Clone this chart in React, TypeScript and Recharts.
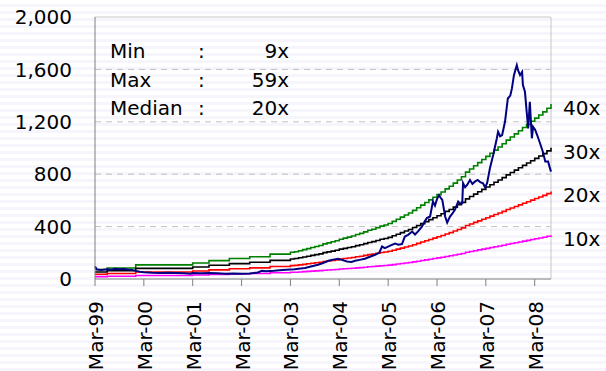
import { LineChart, Line, XAxis, YAxis, ReferenceLine } from 'recharts';

const FONT = '"DejaVu Sans", Verdana, sans-serif';

// months counted from Mar-99
const TICK_MONTHS = [0, 12, 24, 36, 48, 60, 72, 84, 96, 108];
const TICK_LABELS = ['Mar-99', 'Mar-00', 'Mar-01', 'Mar-02', 'Mar-03', 'Mar-04', 'Mar-05', 'Mar-06', 'Mar-07', 'Mar-08'];
const Y_TICKS = [0, 400, 800, 1200, 1600, 2000];

// trailing EPS, one value per month (Mar-99 .. Jul-08)
const EPS = [
  1.8, 1.8, 1.8, 2.1, 2.1, 2.1, 2.1, 2.1, 2.1, 2.1, 2.7, 2.7,
  2.7, 2.7, 2.7, 2.7, 2.7, 2.7, 2.7, 2.7, 2.7, 2.7, 2.7, 2.7,
  3.05, 3.05, 3.05, 3.05, 3.5, 3.5, 3.5, 3.5, 3.5, 3.9, 3.9, 3.9,
  3.9, 3.9, 4.25, 4.25, 4.25, 4.25, 4.25, 4.75, 4.75, 4.75, 4.75, 4.75,
  5.1, 5.2, 5.4, 5.6, 5.8, 6.0, 6.2, 6.4, 6.7, 6.9, 7.1, 7.3,
  7.6, 7.8, 8.0, 8.2, 8.5, 8.7, 9.0, 9.3, 9.5, 9.8, 10.1, 10.3,
  10.6, 11.0, 11.4, 11.8, 12.2, 12.6, 13.1, 13.6, 14.1, 14.6, 15.1, 15.6,
  16.1, 16.6, 17.2, 17.7, 18.3, 18.9, 19.5, 20.4, 21.0, 21.6, 22.2, 22.8,
  23.4, 24.0, 24.6, 25.2, 25.8, 26.5, 27.1, 27.7, 28.3, 28.9, 29.5, 30.1,
  30.7, 31.3, 31.9, 32.6, 33.4,
];

const PRICE_AT = [
  0, 0.5, 1.5, 3, 4, 5, 6, 7, 8, 9, 10, 11, 12, 13, 14, 16, 18, 20, 22, 23.5,
  24, 26, 28, 30, 32, 34, 36, 38, 40, 41, 42, 44, 46, 47, 49, 50.5, 51.6, 53, 54.8, 56,
  57.3, 58.5, 59.7, 60.8, 61.9, 63, 63.9, 65, 66.3, 67.5, 68.8, 69.8, 70.5, 71.2, 72.5, 73.7, 74.5, 75.4, 76.1, 76.9,
  77.9, 78.6, 79.4, 80.3, 81, 81.5, 82.3, 83, 83.5, 84, 84.5, 85, 85.3, 86, 86.5, 87.2, 87.8, 88.4, 89.2, 89.7,
  90.2, 90.4, 90.9, 91.4, 92.1, 92.7, 93.3, 94, 94.6, 95.3, 95.8, 96.3, 97, 97.8, 98.7, 99, 99.5, 100, 100.7, 101.4,
  102, 102.4, 102.9, 103.6, 103.9, 104.4, 104.9, 105.1, 105.6, 106.1, 106.4, 106.8, 107.3, 107.6, 108.1, 108.6, 109.3, 110, 110.6, 111.3,
  111.7, 112,
];
const PRICE = [
  96, 72, 68, 74, 70, 78, 75, 77, 72, 70, 62, 56, 52, 50, 48, 46, 47, 45, 44, 40,
  46, 44, 45, 43, 41, 42, 40, 42, 50, 62, 60, 63, 68, 71, 74, 80, 84, 95, 109, 122,
  139, 148, 155, 144, 134, 130, 139, 146, 155, 170, 185, 200, 248, 236, 255, 270, 262, 267, 324, 337,
  362, 340, 365, 400, 440, 465, 477, 591, 560, 610, 640, 615, 604, 477, 431, 477, 500, 528, 591, 575,
  579, 731, 700, 718, 756, 725, 743, 756, 740, 731, 700, 731, 845, 947, 1074, 1124, 1090, 1099, 1200, 1378,
  1400, 1455, 1556, 1632, 1594, 1556, 1581, 1480, 1429, 1251, 1150, 1353, 1074, 1162, 1140, 1099, 1036, 972, 896, 896,
  850, 820,
];

const BANDS = [
  { pe: 40, key: 'pe40', color: '#008000' },
  { pe: 30, key: 'pe30', color: '#000000' },
  { pe: 20, key: 'pe20', color: '#ff0000' },
  { pe: 10, key: 'pe10', color: '#ff00ff' },
];

const STATS = [
  { label: 'Min', value: '9x' },
  { label: 'Max', value: '59x' },
  { label: 'Median', value: '20x' },
];

const bandData = EPS.map((e, i) => {
  const row: Record<string, number> = { m: i };
  BANDS.forEach((b) => {
    row[b.key] = e * b.pe;
  });
  return row;
});

const priceData = PRICE_AT.map((m, i) => ({ m, price: PRICE[i] }));

const MonthTick = ({ x, y, payload }: any) => (
  <g transform={`translate(${x + 1},${y})`}>
    <text
      transform="rotate(-90)"
      textAnchor="end"
      dominantBaseline="central"
      fontSize={20}
      fontFamily={FONT}
      fill="#000"
    >
      {TICK_LABELS[TICK_MONTHS.indexOf(payload.value)]}
    </text>
  </g>
);

const endLabel = (text: string) => (p: any) =>
  p.index === EPS.length - 1 ? (
    <text
      key={text}
      x={p.x + 12}
      y={p.y + 4}
      dominantBaseline="central"
      fontSize={20}
      fontFamily={FONT}
      fill="#000"
    >
      {text}
    </text>
  ) : null;

export default function App() {
  return (
    <div
      style={{
        position: 'absolute',
        left: 0,
        top: 0,
        width: 606,
        height: 371,
        background: 'repeating-linear-gradient(#ffffff 0px, #ffffff 4px, #f5f5fb 4px, #f5f5fb 7px)',
        fontFamily: FONT,
      }}
    >
      <LineChart
        width={606}
        height={371}
        data={bandData}
        margin={{ top: 17, right: 55, bottom: 0, left: 0 }}
      >
        <XAxis
          dataKey="m"
          type="number"
          domain={[0, 112]}
          ticks={TICK_MONTHS}
          interval={0}
          height={92}
          tickSize={7}
          tickMargin={15}
          stroke="#808080"
          tick={<MonthTick />}
        />
        <YAxis
          type="number"
          domain={[0, 2000]}
          ticks={Y_TICKS}
          width={95}
          tickLine={false}
          tickSize={0}
          tickMargin={23}
          stroke="#808080"
          tickFormatter={(v: number) => v.toLocaleString('en-US')}
          tick={{ fontSize: 20, fontFamily: FONT, fill: '#000' }}
        />
        {Y_TICKS.slice(1, -1).map((v) => (
          <ReferenceLine key={v} y={v} stroke="#c0c0c0" strokeDasharray="6 5" />
        ))}
        <ReferenceLine y={2000} stroke="#c8c8c8" />
        <ReferenceLine x={112} stroke="#c8c8c8" />
        {BANDS.map((b) => (
          <Line
            key={b.key}
            dataKey={b.key}
            type="stepAfter"
            stroke={b.color}
            strokeWidth={1.6}
            dot={false}
            isAnimationActive={false}
            label={endLabel(`${b.pe}x`)}
          />
        ))}
        <Line
          data={priceData}
          dataKey="price"
          type="linear"
          stroke="#000080"
          strokeWidth={2}
          dot={false}
          isAnimationActive={false}
        />
      </LineChart>
      <div
        style={{
          position: 'absolute',
          left: 110,
          top: 37,
          fontSize: 20,
          lineHeight: '28.5px',
          color: '#000',
        }}
      >
        {STATS.map((s) => (
          <div key={s.label} style={{ position: 'relative', height: 28.5, width: 180 }}>
            <span style={{ position: 'absolute', left: 0 }}>{s.label}</span>
            <span style={{ position: 'absolute', left: 88 }}>:</span>
            <span style={{ position: 'absolute', right: 1 }}>{s.value}</span>
          </div>
        ))}
      </div>
    </div>
  );
}
